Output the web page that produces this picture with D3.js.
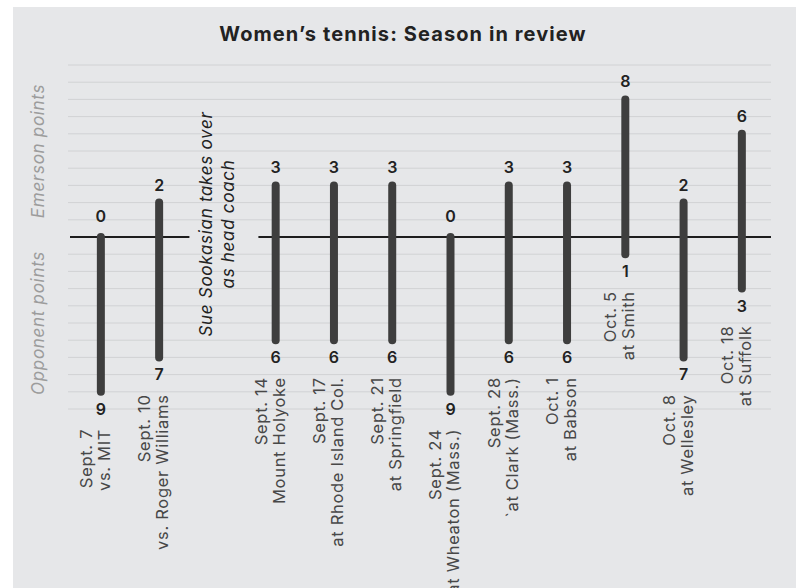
<!DOCTYPE html>
<html>
<head>
<meta charset="utf-8">
<script src="https://cdn.jsdelivr.net/npm/d3@7"></script>
<style>
  body { margin: 0; background: #fff; }
  svg { display: block; font-family: Inter, "Open Sans", sans-serif; }
</style>
</head>
<body>
<div id="chart"></div>
<script>
// match dates and opponents (two-line labels)
const dates = ["Sept. 7", "Sept. 10", "Sept. 14", "Sept. 17", "Sept. 21", "Sept. 24",
               "Sept. 28", "Oct. 1", "Oct. 5", "Oct. 8", "Oct. 18"];
const opponents = ["vs. MIT", "vs. Roger Williams", "Mount Holyoke", "at Rhode Island Col.",
                   "at Springfield", "at Wheaton (Mass.)", "`at Clark (Mass.)", "at Babson",
                   "at Smith", "at Wellesley", "at Suffolk"];
const emersonPoints = [0, 2, 3, 3, 3, 0, 3, 3, 8, 2, 6];
const opponentPoints = [9, 7, 6, 6, 6, 9, 6, 6, 1, 7, 3];
const gridTicks = d3.range(-10, 11);
const noteLines = ["Sue Sookasian takes over", "as head coach"];

const data = dates.map((d, i) => ({
    date: d,
    opp: opponents[i],
    em: emersonPoints[i],
    op: opponentPoints[i]
}));

const width = 803;
const height = 588;
const margin = { top: 65, right: 32, bottom: 179, left: 68 };

const svg = d3.select('#chart')
    .append('svg')
    .attr('width', width)
    .attr('height', height);

// grey panel
svg.append('rect')
    .attr('x', 13).attr('y', 7)
    .attr('width', 783).attr('height', height - 7)
    .attr('fill', '#e6e7e9');

// slot 2 is left empty for the coaching note
const slots = dates.slice(0, 2).concat(['note'], dates.slice(2));

const x = d3.scalePoint()
    .domain(slots)
    .range([margin.left, width - margin.right])
    .padding(0.532)
    .align(0.53);

const y = d3.scaleLinear()
    .domain([-10, 10])
    .range([height - margin.bottom, margin.top]);

// gridlines
svg.append('g')
    .selectAll('line')
    .data(gridTicks.filter(t => t !== 0))
    .enter()
    .append('line')
    .attr('x1', margin.left)
    .attr('x2', width - margin.right)
    .attr('y1', d => y(d))
    .attr('y2', d => y(d))
    .attr('stroke', '#d1d2d4')
    .attr('stroke-width', 1);

// zero line, broken around the note
const gapL = x('note') - 28;
const gapR = x('note') + 41;
svg.append('g')
    .selectAll('line')
    .data([[margin.left + 2, gapL], [gapR, width - margin.right]])
    .enter()
    .append('line')
    .attr('x1', d => d[0])
    .attr('x2', d => d[1])
    .attr('y1', y(0))
    .attr('y2', y(0))
    .attr('stroke', '#1d1d1d')
    .attr('stroke-width', 2);

// bars
svg.append('g')
    .selectAll('line')
    .data(data)
    .enter()
    .append('line')
    .attr('x1', d => x(d.date))
    .attr('x2', d => x(d.date))
    .attr('y1', d => y(d.em))
    .attr('y2', d => y(-d.op))
    .attr('stroke', '#3e3e3e')
    .attr('stroke-width', 8)
    .attr('stroke-linecap', 'round');

// Emerson score above each bar
svg.append('g')
    .selectAll('text')
    .data(data)
    .enter()
    .append('text')
    .attr('x', d => x(d.date))
    .attr('y', d => y(d.em) - (d.em === 0 ? 15 : 12))
    .attr('text-anchor', 'middle')
    .attr('font-size', 16)
    .attr('font-weight', 600)
    .attr('fill', '#222')
    .text(d => d.em);

// opponent score below each bar
svg.append('g')
    .selectAll('text')
    .data(data)
    .enter()
    .append('text')
    .attr('x', d => x(d.date))
    .attr('y', d => y(-d.op) + 23)
    .attr('text-anchor', 'middle')
    .attr('font-size', 16)
    .attr('font-weight', 600)
    .attr('fill', '#222')
    .text(d => d.op);

// rotated match labels
const labels = svg.append('g')
    .selectAll('text')
    .data(data)
    .enter()
    .append('text')
    .attr('transform', d => `translate(${x(d.date)},${y(-d.op) + 37}) rotate(-90)`)
    .attr('text-anchor', 'end')
    .attr('font-size', 16.5)
    .attr('letter-spacing', 0.7)
    .attr('fill', '#484848');

labels.append('tspan')
    .attr('x', 0)
    .attr('y', -9)
    .text(d => d.date);

labels.append('tspan')
    .attr('x', 0)
    .attr('y', 9)
    .text(d => d.opp);

// coaching note
svg.append('text')
    .attr('transform', `translate(${x('note')},${y(0) - 13}) rotate(-90)`)
    .attr('text-anchor', 'middle')
    .attr('font-size', 17)
    .attr('font-style', 'italic')
    .attr('letter-spacing', 0.7)
    .attr('fill', '#222')
    .selectAll('tspan')
    .data(noteLines)
    .enter()
    .append('tspan')
    .attr('x', 0)
    .attr('y', (d, i) => i === 0 ? -5 : 17)
    .text(d => d);

// axis titles
svg.append('g')
    .selectAll('text')
    .data([['Emerson points', 5], ['Opponent points', -5]])
    .enter()
    .append('text')
    .attr('transform', d => `translate(44,${y(d[1])}) rotate(-90)`)
    .attr('text-anchor', 'middle')
    .attr('font-size', 17)
    .attr('font-style', 'italic')
    .attr('letter-spacing', 0.7)
    .attr('fill', '#9c9c9c')
    .text(d => d[0]);

// title
svg.append('text')
    .attr('x', 403)
    .attr('y', 41)
    .attr('text-anchor', 'middle')
    .attr('font-size', 20)
    .attr('font-weight', 700)
    .attr('letter-spacing', 1.1)
    .attr('fill', '#222')
    .text('Women’s tennis: Season in review');
</script>
</body>
</html>
